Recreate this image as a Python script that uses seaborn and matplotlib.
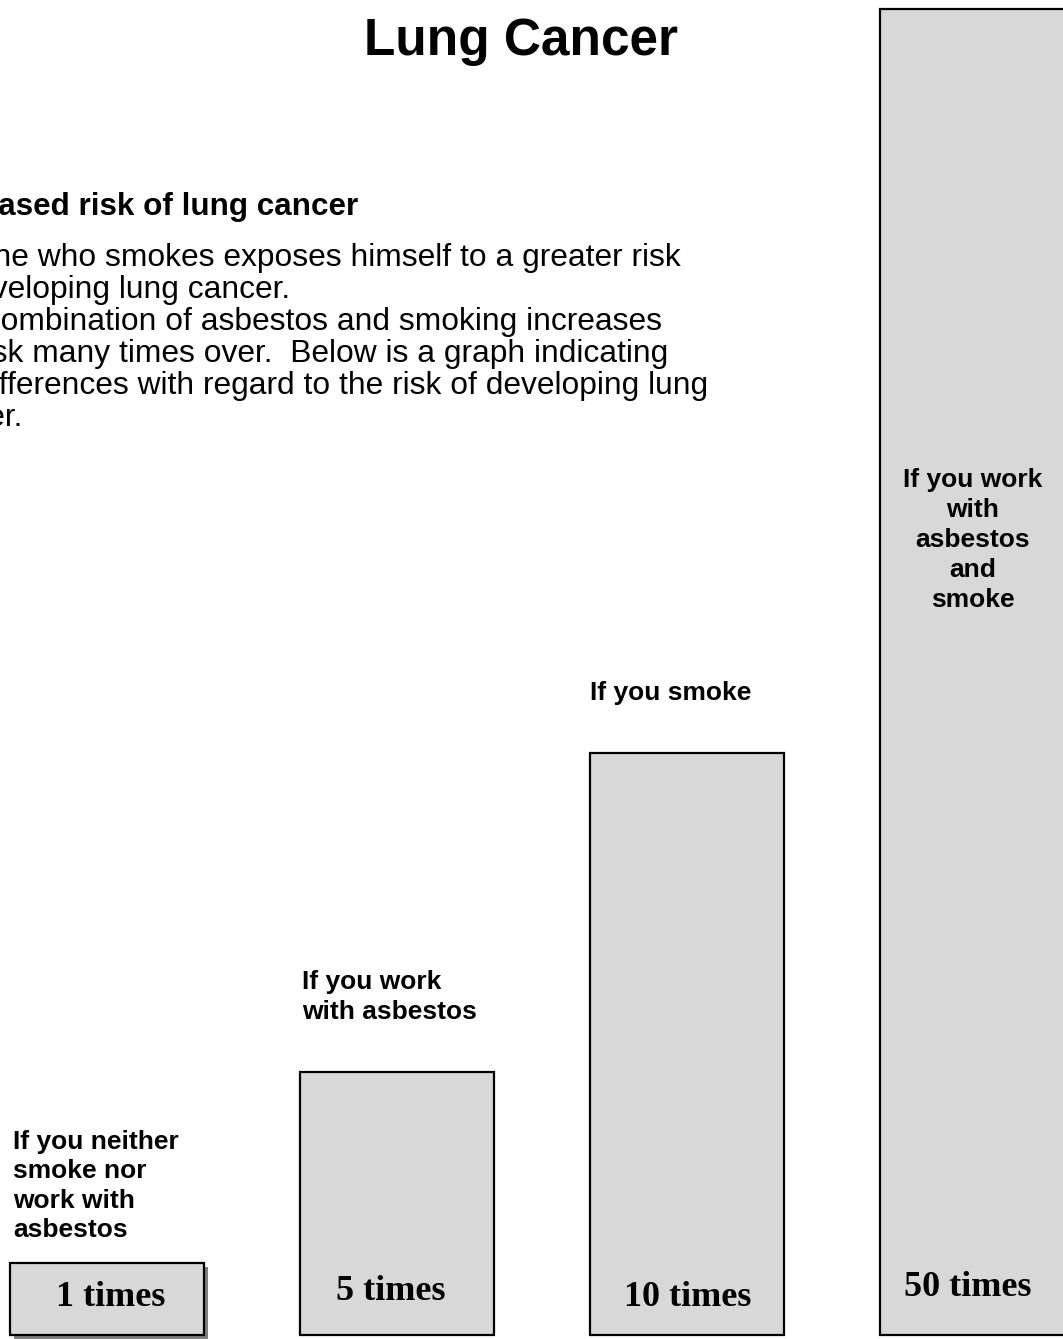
import matplotlib
matplotlib.use("Agg")
import matplotlib.pyplot as plt
import matplotlib.patheffects as pe
import pandas as pd
import seaborn as sns

# bar data, heights (the drawing is not to scale)
groups = ["neither", "asbestos", "smoke", "asbestos and smoke"]
bar_heights = [72, 263, 582, 1326]
risk_labels = ["1 times", "5 times", "10 times", "50 times"]
group_labels = [
    "If you neither\nsmoke nor\nwork with\nasbestos",
    "If you work\nwith asbestos",
    "If you smoke",
    "If you work\nwith\nasbestos\nand\nsmoke",
]

title = "Lung Cancer"
heading = "Increased risk of lung cancer"
body_lines = [
    "Anyone who smokes exposes himself to a greater risk",
    "of developing lung cancer.",
    "The combination of asbestos and smoking increases",
    "the risk many times over.  Below is a graph indicating",
    "the differences with regard to the risk of developing lung",
    "cancer.",
]

W, H = 1063, 1339


def px(x, y):
    # pixel position (from top-left) -> figure fraction
    return x / W, 1 - y / H


def main():
    sns.set_style("white")
    plt.rcParams['font.family'] = ['Liberation Sans', 'DejaVu Sans']
    plt.rcParams['text.color'] = 'black'

    fig = plt.figure(figsize=(W / 100, H / 100), dpi=100)
    ax = fig.add_axes([0, 0, 1, 1])

    df = pd.DataFrame({"group": groups, "height": bar_heights})
    sns.barplot(data=df, x="group", y="height", width=0.67, color="#d8d8d8",
                saturation=1, edgecolor="black", linewidth=1.6, ax=ax)

    ax.set_xlim(-0.369, 3.297)
    ax.set_ylim(-4, 1335)
    ax.axis("off")

    # drop shadow only on the small first box
    ax.patches[0].set_path_effects([
        pe.SimplePatchShadow(offset=(3, -3), shadow_rgbFace="#808080", alpha=1),
        pe.Normal()])

    # risk labels inside the bars
    risk_pos = [(111, 1298), (391, 1291), (688, 1297), (968, 1287)]
    for (x, y), lab in zip(risk_pos, risk_labels):
        fig.text(*px(x, y), lab, ha="center", va="center", fontsize=26,
                 fontweight="bold", family=["Liberation Serif", "DejaVu Serif"])

    # group captions
    fig.text(*px(13, 1186), group_labels[0], ha="left", va="center",
             fontsize=19, fontweight="bold", linespacing=1.28)
    fig.text(*px(302, 997), group_labels[1], ha="left", va="center",
             fontsize=19, fontweight="bold", linespacing=1.3)
    fig.text(*px(590, 693), group_labels[2], ha="left", va="center",
             fontsize=19, fontweight="bold")
    fig.text(*px(973, 540), group_labels[3], ha="center", va="center",
             fontsize=19, fontweight="bold", linespacing=1.32)

    # title and intro text (cut off at the left edge like the original)
    fig.text(*px(521, 42), title, ha="center", va="center", fontsize=37,
             fontweight="bold")
    fig.text(*px(-77, 207), heading, ha="left", va="center", fontsize=22.6,
             fontweight="bold")
    for i, line in enumerate(body_lines):
        fig.text(*px(-79, 258 + 32 * i), line, ha="left", va="center",
                 fontsize=22.9)

    fig.savefig("out.png", dpi=100)


if __name__ == '__main__':
    main()
